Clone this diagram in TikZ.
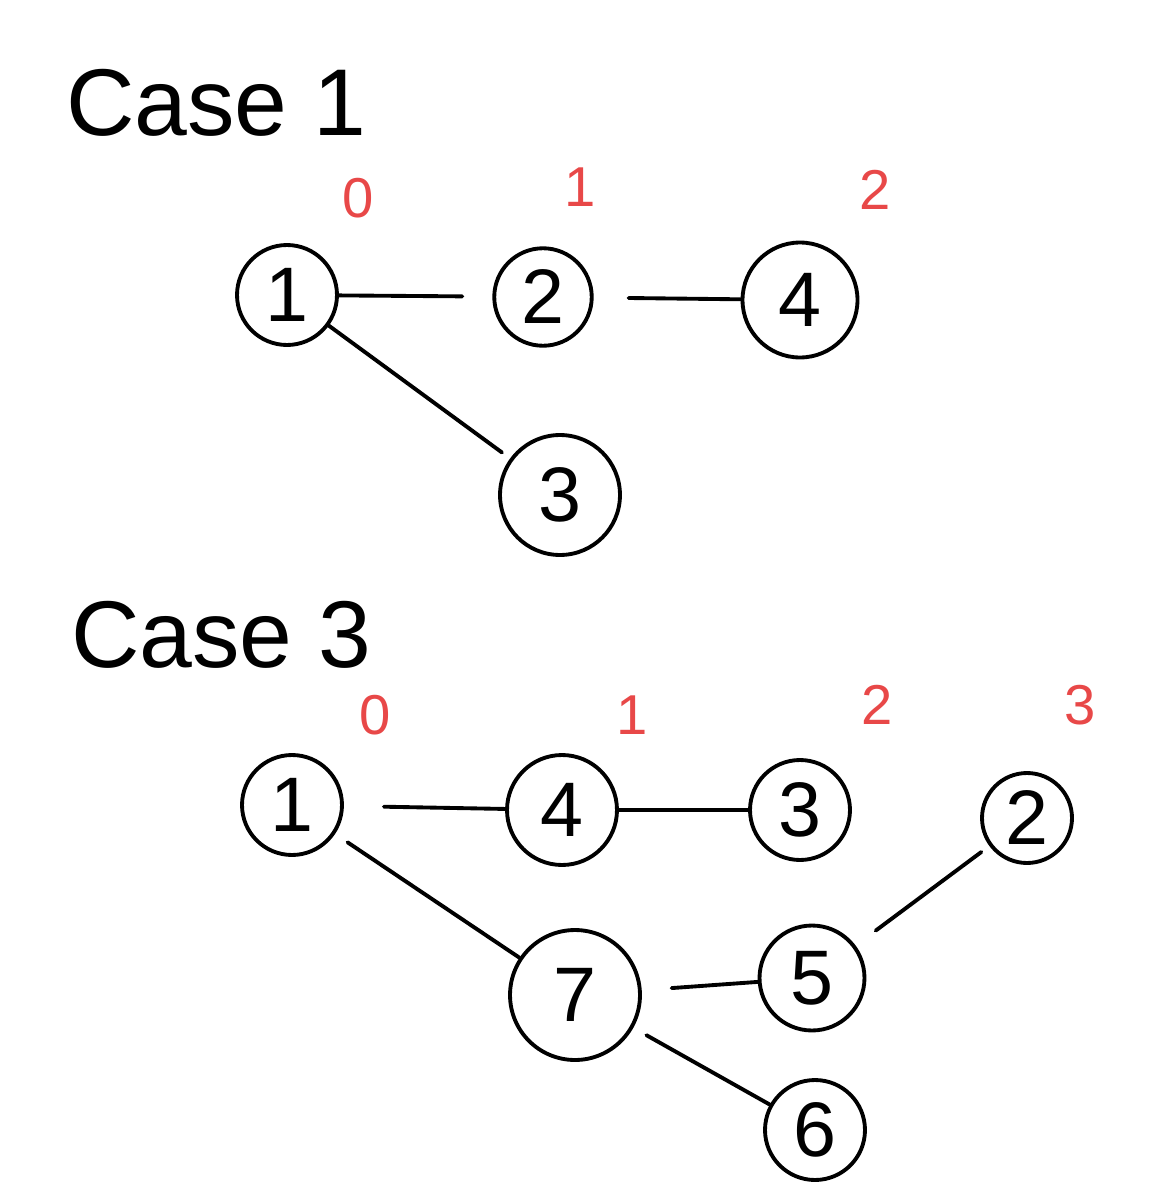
\documentclass[tikz,border=0pt]{standalone}
\usepackage{fontspec}
\setmainfont{Liberation Sans}
\definecolor{hred}{RGB}{232,72,72}
\begin{document}
\begin{tikzpicture}[x=0.02cm,y=-0.02cm,
  vnode/.style={draw, circle, line width=2.2pt, inner sep=0pt, font=\fontsize{44}{50}\selectfont},
  lvl/.style={text=hred, font=\fontsize{32}{36}\selectfont},
  ttl/.style={font=\fontsize{54}{60}\selectfont, anchor=west},
  edge/.style={line width=2.2pt, line cap=round}]
\useasboundingbox (0,0) rectangle (1149,1200);
% Case 1
\node[ttl] (t1) at (60,103) {Case 1};
\node[lvl] (l10) at (358,198) {0};
\node[lvl] (l11) at (580,187) {1};
\node[lvl] (l12) at (875,190) {2};
\node[vnode, minimum size=2.0cm] (a1) at (287,295) {1};
\node[vnode, minimum size=1.95cm] (a2) at (543,297) {2};
\node[vnode, minimum size=2.3cm] (a4) at (800,300) {4};
\node[vnode, minimum size=2.4cm] (a3) at (560,495) {3};
\draw[edge, shorten >=0.6cm] (a1) -- (a2);
\draw[edge, shorten <=0.7cm] (a2) -- (a4);
\draw[edge, shorten >=0.2cm] (a1) -- (a3);
% Case 3
\node[ttl] (t3) at (65,635) {Case 3};
\node[lvl] (l30) at (375,715) {0};
\node[lvl] (l31) at (632,715) {1};
\node[lvl] (l32) at (877,705) {2};
\node[lvl] (l33) at (1080,705) {3};
\node[vnode, minimum size=2.0cm] (b1) at (292,805) {1};
\node[vnode, minimum size=2.2cm] (b4) at (562,810) {4};
\node[vnode, minimum size=2.0cm] (b3) at (800,810) {3};
\node[vnode, minimum size=1.8cm] (b2) at (1027,818) {2};
\node[vnode, minimum size=2.6cm] (b7) at (575,995) {7};
\node[vnode, minimum size=2.1cm] (b5) at (812,978) {5};
\node[vnode, minimum size=2.0cm] (b6) at (815,1130) {6};
\draw[edge, shorten <=0.8cm] (b1) -- (b4);
\draw[edge] (b4) -- (b3);
\draw[edge, shorten <=0.3cm] (b1) -- (b7);
\draw[edge, shorten <=0.6cm] (b7) -- (b5);
\draw[edge, shorten <=0.5cm, shorten >=0.2cm] (b5) -- (b2);
\draw[edge, shorten <=0.3cm] (b7) -- (b6);
\end{tikzpicture}
\end{document}
